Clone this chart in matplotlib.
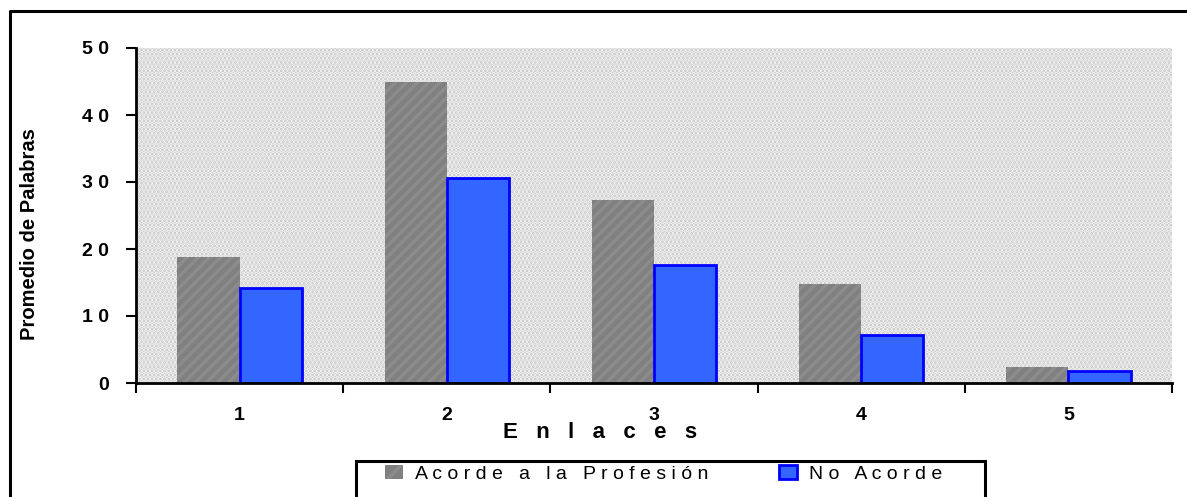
import numpy as np
import matplotlib.pyplot as plt
from matplotlib.patches import Rectangle, Patch
from matplotlib.lines import Line2D

plt.rcParams['font.family'] = ['Liberation Sans', 'DejaVu Sans']
plt.rcParams['hatch.linewidth'] = 2.5

# Data
enlaces = ['1', '2', '3', '4', '5']
acorde = [18.8, 44.9, 27.3, 14.8, 2.4]
no_acorde = [14.2, 30.6, 17.6, 7.2, 1.8]
y_ticks = [0, 10, 20, 30, 40, 50]


def spaced(s, gap=' ', word_gap='   '):
    # mimic the letter-spaced text of the original
    return word_gap.join(gap.join(w) for w in s.split())


W, H = 1187, 497
fig = plt.figure(figsize=(W / 100, H / 100), dpi=100)
fig.patch.set_facecolor('white')

# outer frame (only left and top edges visible)
fig.add_artist(Line2D([10 / W, 10 / W, 1], [0, 1 - 11 / H, 1 - 11 / H],
                      transform=fig.transFigure, color='black', lw=2.2))

ax = fig.add_axes([136 / W, (H - 383) / H, (1172 - 136) / W, (383 - 48) / H])
ax.set_facecolor('#c6c6c6')
ax.add_patch(Rectangle((0, 0), 1, 1, transform=ax.transAxes, facecolor='none',
                       edgecolor='#f2f2f2', hatch='....', lw=0, zorder=0))

x = np.arange(len(enlaces))
w = 0.3
ax.bar(x - w / 2, acorde, w, color='#808080', edgecolor='#8c8c8c', lw=0,
       hatch='///', zorder=2)
ax.bar(x + w / 2, no_acorde, w, color='#3366ff', edgecolor='#0000ff', lw=2,
       zorder=2)

ax.set_xlim(-0.5, len(enlaces) - 0.5)
ax.set_ylim(0, 50)
ax.set_yticks(y_ticks)
ax.set_yticklabels([spaced(str(v)) for v in y_ticks], fontsize=14,
                   fontweight='bold')
ax.set_xticks(x)
ax.set_xticklabels(enlaces, fontsize=14, fontweight='bold')
ax.tick_params(axis='x', length=0, pad=17)
ax.set_xticks(np.arange(-0.5, len(enlaces)), minor=True)
ax.tick_params(axis='x', which='minor', length=7.2, width=1.5, direction='out')
ax.tick_params(axis='y', length=7.2, width=1.5, direction='out', pad=12)

for s in ['top', 'right']:
    ax.spines[s].set_visible(False)
for s in ['left', 'bottom']:
    ax.spines[s].set_linewidth(2)

fig.text(30 / W, 1 - 234 / H, 'Promedio de Palabras', rotation=90,
         fontsize=14.5, fontweight='bold', ha='center', va='center')
fig.text(600 / W, 1 - 432 / H, spaced('Enlaces', gap='   '), fontsize=16,
         fontweight='bold', ha='center', va='center')

# legend box
fig.add_artist(Rectangle((356 / W, -0.05), (985 - 356) / W, 0.05 + (H - 461) / H,
                         transform=fig.transFigure, facecolor='white',
                         edgecolor='black', lw=2.2))
handles = [Patch(facecolor='#808080', edgecolor='#8c8c8c', hatch='//', lw=0),
           Patch(facecolor='#3366ff', edgecolor='#0000ff', lw=2)]
labels = [spaced('Acorde a la Profesión'), spaced('No Acorde')]
fig.legend(handles, labels, loc='center left', bbox_to_anchor=(385 / W, 1 - 474 / H),
           ncol=2, frameon=False, fontsize=14, handlelength=0.95,
           handleheight=0.7, handletextpad=0.6, columnspacing=3.6,
           borderpad=0, borderaxespad=0)

fig.savefig('out.png', dpi=100)
